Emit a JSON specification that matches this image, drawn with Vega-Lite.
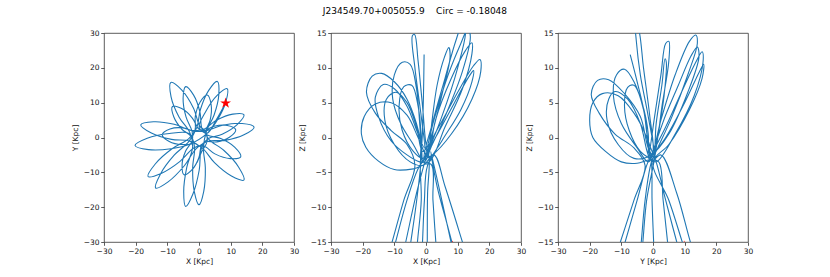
{
"$schema": "https://vega.github.io/schema/vega-lite/v6.json",
"padding": {"left": 70, "top": 6, "right": 5, "bottom": 5},
"title": {"text": "J234549.70+005055.9\u00a0\u00a0\u00a0\u00a0Circ = -0.18048", "anchor": "middle", "font": "DejaVu Sans", "fontSize": 9, "fontWeight": "normal", "color": "#000", "offset": 13, "dx": 3},
"config": {
  "font": "DejaVu Sans",
  "view": {"stroke": "#333", "strokeWidth": 0.8},
  "axis": {"grid": false, "domain": false, "labelOverlap": false, "labelFlush": false, "tickColor": "#333", "tickSize": 3.3, "tickWidth": 0.8, "labelFont": "DejaVu Sans", "labelFontSize": 7.5, "labelColor": "#111", "labelPadding": 1.7, "titleFont": "DejaVu Sans", "titleFontSize": 7.5, "titleFontWeight": "normal", "titleColor": "#111"},
  "axisX": {"titlePadding": 3},
  "axisY": {"titlePadding": 4}
},
"datasets": {
"xy": [
{"a":-0.6,"b":-7.2},{"a":0.8,"b":-4.2},{"a":2.6,"b":-1.0},{"a":2.0,"b":1.8},
{"a":0.25,"b":3.27},{"a":-1.73,"b":8.39},{"a":-5.42,"b":13.6},{"a":-8.9,"b":15.8},{"a":-8.82,"b":11.68},{"a":-6.27,"b":5.83},{"a":-2.93,"b":1.47},
{"a":-2.0,"b":-2.68},{"a":-3.85,"b":-8.49},{"a":-4.83,"b":-15.53},{"a":-4.2,"b":-19.8},{"a":-1.89,"b":-16.15},{"a":0.07,"b":-9.33},{"a":0.74,"b":-3.26},
{"a":2.77,"b":-0.42},{"a":7.31,"b":0.93},{"a":12.05,"b":3.7},{"a":14.2,"b":6.5},{"a":10.67,"b":6.7},{"a":5.47,"b":4.93},{"a":1.49,"b":2.38},
{"a":-2.46,"b":2.05},{"a":-7.86,"b":3.78},{"a":-14.4,"b":4.5},{"a":-18.4,"b":3.6},{"a":-15.04,"b":1.26},{"a":-8.7,"b":-0.54},{"a":-3.06,"b":-0.97},
{"a":1.08,"b":-3.05},{"a":4.89,"b":-7.24},{"a":10.24,"b":-11.07},{"a":14.2,"b":-12.2},{"a":12.48,"b":-8.45},{"a":7.89,"b":-3.74},{"a":3.18,"b":-0.61},
{"a":2.03,"b":1.48},{"a":3.52,"b":4.99},{"a":3.84,"b":9.38},{"a":2.6,"b":12.2},{"a":0.32,"b":10.14},{"a":-1.18,"b":5.99},{"a":-1.25,"b":2.18},
{"a":-3.3,"b":-0.42},{"a":-8.51,"b":-3.23},{"a":-13.82,"b":-7.61},{"a":-16.1,"b":-11.2},{"a":-11.94,"b":-10.31},{"a":-5.99,"b":-6.85},{"a":-1.54,"b":-2.94},
{"a":1.33,"b":-2.38},{"a":5.02,"b":-4.7},{"a":9.87,"b":-6.06},{"a":13.2,"b":-5.5},{"a":11.25,"b":-2.74},{"a":6.86,"b":-0.26},{"a":2.63,"b":0.72},
{"a":0.92,"b":2.64},{"a":0.32,"b":7.21},{"a":-1.7,"b":12.16},{"a":-4.2,"b":14.6},{"a":-5.02,"b":11.2},{"a":-4.1,"b":5.93},{"a":-2.18,"b":1.74},
{"a":-2.18,"b":-0.96},{"a":-4.22,"b":-3.9},{"a":-5.34,"b":-7.87},{"a":-4.7,"b":-10.7},{"a":-2.18,"b":-9.25},{"a":-0.02,"b":-5.74},{"a":0.76,"b":-2.26},
{"a":2.04,"b":-1.25},{"a":5.65,"b":-1.27},{"a":9.6,"b":0.07},{"a":11.6,"b":2.2},{"a":8.96,"b":3.45},{"a":4.79,"b":3.25},{"a":1.44,"b":1.91},
{"a":-0.09,"b":2.44},{"a":-2.11,"b":5.59},{"a":-5.47,"b":8.3},{"a":-8.4,"b":8.9},{"a":-7.97,"b":5.94},{"a":-5.45,"b":2.43},{"a":-2.43,"b":0.24},
{"a":-1.4,"b":-2.9},{"a":-2.0,"b":-8.69},{"a":-1.5,"b":-15.44},{"a":0,"b":-19.3},{"a":1.5,"b":-15.44},{"a":2.0,"b":-8.69},{"a":1.4,"b":-2.9},
{"a":2.39,"b":1.87},{"a":4.77,"b":6.47},{"a":6.26,"b":12.3},{"a":5.8,"b":16.1},{"a":3.02,"b":13.46},{"a":0.45,"b":8.03},{"a":-0.65,"b":2.97},
{"a":-3.18,"b":-1.12},{"a":-7.77,"b":-5.02},{"a":-12.16,"b":-10.47},{"a":-13.7,"b":-14.5},{"a":-9.76,"b":-12.73},{"a":-4.57,"b":-8.04},{"a":-0.94,"b":-3.24},
{"a":2.87,"b":-1.07},{"a":8.2,"b":-0.82},{"a":14.2,"b":0.77},{"a":17.4,"b":3.0},{"a":13.64,"b":4.03},{"a":7.46,"b":3.52},{"a":2.35,"b":1.97},
{"a":-1.62,"b":1.79},{"a":-5.05,"b":2.75},{"a":-9.16,"b":2.43},{"a":-11.6,"b":0.8},{"a":-9.4,"b":-1.15},{"a":-5.39,"b":-2.03},{"a":-1.86,"b":-1.55},
{"a":-3.2,"b":1.18},{"a":-9.34,"b":1.15},{"a":-16.35,"b":-0.2},{"a":-20.2,"b":-2.3},{"a":-15.97,"b":-3.48},{"a":-8.84,"b":-3.23},{"a":-2.86,"b":-1.88},
{"a":2.64,"b":1.27},{"a":5.86,"b":5.12},{"a":8.51,"b":10.32},{"a":8.9,"b":14.0},{"a":5.73,"b":12.08},{"a":2.14,"b":7.48},{"a":0.04,"b":2.93},
{"a":2.6,"b":1.2},{"a":5.4,"b":5.0},{"a":8.4,"b":9.9}
],
"xz": [
{"a":-0.6,"b":11.9},{"a":-0.8,"b":6},{"a":-1.2,"b":0},{"a":-1.8,"b":-4},
{"a":-1.5,"b":-9},{"a":-2.7,"b":-15},{"a":-3.8,"b":-21},{"a":0,"b":-27},{"a":4.2,"b":-21},{"a":3.1,"b":-15},{"a":2.2,"b":-9},{"a":1.5,"b":-3.8},
{"a":-4,"b":-4.5},{"a":-10,"b":-4.6},{"a":-15,"b":-3.4},{"a":-19,"b":-1.4},{"a":-20.4,"b":0.5},{"a":-19.5,"b":3},{"a":-16,"b":4.8},{"a":-11,"b":5},{"a":-6,"b":3.2},{"a":-2.5,"b":0},
{"a":0.5,"b":-2.8},{"a":1.8,"b":2},{"a":3.5,"b":7.5},{"a":5.8,"b":11.5},{"a":7.2,"b":12.9},{"a":7.6,"b":11.5},{"a":5.5,"b":7},{"a":2.5,"b":1.5},{"a":0.5,"b":-2},
{"a":-3,"b":-8},{"a":-6.4,"b":-15},{"a":-9.3,"b":-21},{"a":-12,"b":-26},{"a":-14.4,"b":-21},{"a":-10.7,"b":-15},{"a":-7,"b":-9},{"a":-3.5,"b":-4},
{"a":-6,"b":-1},{"a":-11,"b":1},{"a":-16,"b":3.5},{"a":-18.8,"b":6.5},{"a":-17,"b":8.8},{"a":-14,"b":9.2},{"a":-10,"b":8},{"a":-6,"b":5.5},{"a":-3,"b":2},{"a":-1.5,"b":-1},
{"a":-1,"b":-3.5},{"a":2.5,"b":2.5},{"a":7,"b":9},{"a":11,"b":13.5},{"a":13.2,"b":15.6},{"a":14,"b":14.5},{"a":11.5,"b":9.5},{"a":6,"b":3},{"a":1.5,"b":-1.5},
{"a":-0.5,"b":-3.5},{"a":-4,"b":-1},{"a":-8,"b":2},{"a":-10.5,"b":5.5},{"a":-10,"b":9},{"a":-7.5,"b":10.8},{"a":-5,"b":10.5},{"a":-3,"b":7},{"a":-2,"b":2},{"a":-1.5,"b":-2.5},
{"a":-2.8,"b":-8.5},{"a":-4.8,"b":-15},{"a":-6.8,"b":-21},{"a":-9.5,"b":-26},{"a":-13,"b":-21},{"a":-9.6,"b":-15},{"a":-6,"b":-9},{"a":-2.5,"b":-4.5},
{"a":1,"b":-2},{"a":3,"b":2.5},{"a":8,"b":8.5},{"a":12.5,"b":12.5},{"a":14.5,"b":13.6},{"a":14.5,"b":12},{"a":11.5,"b":7},{"a":6,"b":1.5},{"a":1,"b":-3.5},
{"a":-2,"b":-3.5},{"a":-6,"b":-2.5},{"a":-11,"b":-0.5},{"a":-15,"b":3},{"a":-16,"b":5.8},{"a":-13.5,"b":7.6},{"a":-10,"b":7},{"a":-6,"b":4.5},{"a":-2.5,"b":0.5},
{"a":-0.5,"b":-1.5},{"a":-1.5,"b":3},{"a":-3.5,"b":10},{"a":-4.3,"b":14.6},{"a":-3.6,"b":14.8},{"a":-2.5,"b":11},{"a":-1,"b":4},{"a":0,"b":-1},
{"a":1,"b":-3},{"a":0.5,"b":-8},{"a":0.4,"b":-15},{"a":0.3,"b":-21},{"a":7,"b":-27},{"a":15.5,"b":-21},{"a":11.5,"b":-15},{"a":6,"b":-7},{"a":2.5,"b":-2.5},
{"a":-1,"b":-4},{"a":-5,"b":-3.5},{"a":-10,"b":-1},{"a":-13,"b":2.5},{"a":-12.5,"b":5.5},{"a":-9.5,"b":6.5},{"a":-6,"b":5},{"a":-3,"b":1.5},{"a":-1,"b":-2},
{"a":4,"b":1.5},{"a":10,"b":6.5},{"a":15,"b":10.3},{"a":17,"b":11.2},{"a":17.3,"b":9.5},{"a":14.5,"b":5.5},{"a":8,"b":0.5},{"a":2,"b":-2.5},
{"a":-0.5,"b":-3},{"a":2,"b":2},{"a":6,"b":8.5},{"a":9.5,"b":14},{"a":11.5,"b":16.3},{"a":12.5,"b":15.5},{"a":10,"b":10},{"a":5,"b":3},{"a":1.5,"b":-1},
{"a":-1,"b":-3},{"a":-4,"b":-2},{"a":-7.5,"b":1},{"a":-8.5,"b":4.5},{"a":-7,"b":7.3},{"a":-4.5,"b":7.5},{"a":-2.5,"b":4.5},{"a":-1.5,"b":0},
{"a":-1.5,"b":-3.5},{"a":3,"b":0},{"a":9,"b":5},{"a":13.5,"b":8.7},{"a":15,"b":9.6},{"a":14.5,"b":8},{"a":11,"b":4},{"a":5,"b":-0.5},{"a":0.5,"b":-4},
{"a":-0.5,"b":-9},{"a":-1.1,"b":-15},{"a":-1.7,"b":-21},{"a":4,"b":-27},{"a":11,"b":-21},{"a":7.9,"b":-15},{"a":4.5,"b":-8},{"a":1.5,"b":-2},
{"a":3.5,"b":-7},{"a":7,"b":-13},{"a":8.5,"b":-15.6}
],
"yz": [
{"a":-7.2,"b":11.9},{"a":-5,"b":8},{"a":-2.5,"b":3},{"a":-1.5,"b":-1.5},
{"a":-0.5,"b":-3.5},{"a":-0.3,"b":-9},{"a":0.2,"b":-15},{"a":0.7,"b":-21},{"a":3,"b":-27},{"a":6,"b":-21},{"a":4.6,"b":-15},{"a":3.2,"b":-9},{"a":1.8,"b":-3.5},
{"a":-1,"b":-3.2},{"a":-5,"b":-3.7},{"a":-10,"b":-3.5},{"a":-15,"b":-2},{"a":-19,"b":0},{"a":-20,"b":2.5},{"a":-19,"b":5},{"a":-16,"b":6.3},{"a":-11,"b":6},{"a":-6,"b":3.5},{"a":-2,"b":0},
{"a":-0.5,"b":-2.5},{"a":2.5,"b":2.5},{"a":7,"b":9},{"a":11.5,"b":13.8},{"a":13.5,"b":14.7},{"a":14,"b":13.5},{"a":11,"b":9},{"a":6,"b":3},{"a":1.5,"b":-1.5},
{"a":-0.5,"b":-3.5},{"a":-2.5,"b":-9},{"a":-3.7,"b":-15},{"a":-4.9,"b":-21},{"a":-9,"b":-27},{"a":-14.6,"b":-21},{"a":-10.3,"b":-15},{"a":-6,"b":-9},{"a":-2.5,"b":-4},
{"a":-6,"b":-1.5},{"a":-12,"b":0.5},{"a":-17,"b":3.5},{"a":-19.5,"b":6.2},{"a":-17.5,"b":8.2},{"a":-14,"b":8.3},{"a":-9,"b":6.3},{"a":-4,"b":3},{"a":-1.5,"b":-1.5},
{"a":0.5,"b":-3},{"a":-1.5,"b":3},{"a":-4,"b":9},{"a":-5.3,"b":14},{"a":-5.6,"b":16.5},{"a":-4.5,"b":15.5},{"a":-3,"b":10},{"a":-1,"b":3},{"a":0,"b":-2},
{"a":-1.5,"b":-3.5},{"a":-5,"b":-1.5},{"a":-10,"b":2},{"a":-12.5,"b":6},{"a":-11.5,"b":9},{"a":-9,"b":9.8},{"a":-6,"b":8},{"a":-3,"b":4},{"a":-1.5,"b":-0.5},
{"a":1,"b":-3.5},{"a":4,"b":-9},{"a":7.5,"b":-15},{"a":11,"b":-21},{"a":13.5,"b":-27},{"a":16,"b":-21},{"a":11.8,"b":-15},{"a":7.5,"b":-8},{"a":2.5,"b":-2.5},
{"a":-0.5,"b":-3.5},{"a":3,"b":2},{"a":8,"b":7.5},{"a":12,"b":11.7},{"a":14,"b":13},{"a":14.5,"b":11.5},{"a":11,"b":6.5},{"a":5,"b":0.5},{"a":-0.5,"b":-2.5},
{"a":-6,"b":-3},{"a":-11,"b":-1},{"a":-14.5,"b":2.5},{"a":-14,"b":5.5},{"a":-12,"b":6.6},{"a":-8,"b":5.5},{"a":-4,"b":2},{"a":-1.5,"b":-2.5},
{"a":0,"b":-3.5},{"a":1,"b":2},{"a":2.8,"b":7.5},{"a":3.8,"b":11.3},{"a":4.2,"b":10.8},{"a":3.5,"b":6},{"a":1.5,"b":0},{"a":0.5,"b":-3},
{"a":-2,"b":-9},{"a":-3.2,"b":-15},{"a":-4.4,"b":-21},{"a":-8,"b":-27},{"a":-12.6,"b":-21},{"a":-8.8,"b":-15},{"a":-5,"b":-9},{"a":-2,"b":-4},
{"a":-0.5,"b":-2.5},{"a":4,"b":1.5},{"a":9,"b":6.5},{"a":13.5,"b":10.8},{"a":15.5,"b":12.3},{"a":15.8,"b":10.8},{"a":13,"b":6},{"a":7,"b":0.5},{"a":1,"b":-3.5},
{"a":-1,"b":-3},{"a":-4,"b":-2},{"a":-7.5,"b":1},{"a":-9,"b":4.5},{"a":-8,"b":7.2},{"a":-6,"b":7.5},{"a":-3.5,"b":5},{"a":-1.5,"b":0.5},
{"a":-1.5,"b":-3},{"a":0.5,"b":3},{"a":2.5,"b":9},{"a":4,"b":13.5},{"a":5,"b":13.8},{"a":5,"b":11},{"a":3,"b":5},{"a":0.5,"b":-2},
{"a":-1,"b":-3},{"a":4,"b":0},{"a":10,"b":5},{"a":14.5,"b":9.3},{"a":16,"b":10.5},{"a":15.5,"b":8.5},{"a":11.5,"b":4},{"a":5,"b":-1},{"a":0,"b":-3.5},
{"a":5,"b":-9},{"a":9.1,"b":-14.8},{"a":9.7,"b":-15.6}
],
"star": [{"x": 8.4, "y": 9.85, "z": -15.6}]
},
"bounds": "flush",
"spacing": 37,
"hconcat": [
{
  "width": 190, "height": 209,
  "layer": [
    {"data": {"name": "xy"},
     "mark": {"type": "line", "clip": true, "color": "#1f77b4", "strokeWidth": 1.1, "interpolate": "catmull-rom"},
     "encoding": {
       "x": {"field": "a", "type": "quantitative", "title": "X [Kpc]", "scale": {"domain": [-30, 30], "nice": false, "zero": false}, "axis": {"values": [-30, -20, -10, 0, 10, 20, 30], "labelOverlap": false, "labelFlush": false}},
       "y": {"field": "b", "type": "quantitative", "title": "Y [Kpc]", "scale": {"domain": [-30, 30], "nice": false, "zero": false}, "axis": {"values": [-30, -20, -10, 0, 10, 20, 30], "labelOverlap": false, "labelFlush": false}},
       "order": {"value": null}
     }},
    {"data": {"name": "star"},
     "mark": {"type": "point", "shape": "M0,-1L0.2245,-0.309L0.951,-0.309L0.363,0.118L0.588,0.809L0,0.382L-0.588,0.809L-0.363,0.118L-0.951,-0.309L-0.2245,-0.309Z", "filled": true, "color": "#ff0000", "opacity": 1, "size": 130, "clip": true},
     "encoding": {
       "x": {"field": "x", "type": "quantitative", "title": "X [Kpc]", "axis": {"values": [-30, -20, -10, 0, 10, 20, 30], "labelOverlap": false, "labelFlush": false}},
       "y": {"field": "y", "type": "quantitative", "title": "Y [Kpc]", "axis": {"values": [-30, -20, -10, 0, 10, 20, 30], "labelOverlap": false, "labelFlush": false}}
     }}
  ]
},
{
  "width": 190, "height": 209,
  "layer": [
    {"data": {"name": "xz"},
     "mark": {"type": "line", "clip": true, "color": "#1f77b4", "strokeWidth": 1.1, "interpolate": "catmull-rom"},
     "encoding": {
       "x": {"field": "a", "type": "quantitative", "title": "X [Kpc]", "scale": {"domain": [-30, 30], "nice": false, "zero": false}, "axis": {"values": [-30, -20, -10, 0, 10, 20, 30], "labelOverlap": false, "labelFlush": false}},
       "y": {"field": "b", "type": "quantitative", "title": "Z [Kpc]", "scale": {"domain": [-15, 15], "nice": false, "zero": false}, "axis": {"values": [-15, -10, -5, 0, 5, 10, 15], "labelOverlap": false, "labelFlush": false}},
       "order": {"value": null}
     }},
    {"data": {"name": "star"},
     "mark": {"type": "point", "shape": "M0,-1L0.2245,-0.309L0.951,-0.309L0.363,0.118L0.588,0.809L0,0.382L-0.588,0.809L-0.363,0.118L-0.951,-0.309L-0.2245,-0.309Z", "filled": true, "color": "#ff0000", "opacity": 1, "size": 130, "clip": true},
     "encoding": {
       "x": {"field": "x", "type": "quantitative", "title": "X [Kpc]", "axis": {"values": [-30, -20, -10, 0, 10, 20, 30], "labelOverlap": false, "labelFlush": false}},
       "y": {"field": "z", "type": "quantitative", "title": "Z [Kpc]", "axis": {"values": [-15, -10, -5, 0, 5, 10, 15], "labelOverlap": false, "labelFlush": false}}
     }}
  ]
},
{
  "width": 190, "height": 209,
  "layer": [
    {"data": {"name": "yz"},
     "mark": {"type": "line", "clip": true, "color": "#1f77b4", "strokeWidth": 1.1, "interpolate": "catmull-rom"},
     "encoding": {
       "x": {"field": "a", "type": "quantitative", "title": "Y [Kpc]", "scale": {"domain": [-30, 30], "nice": false, "zero": false}, "axis": {"values": [-30, -20, -10, 0, 10, 20, 30], "labelOverlap": false, "labelFlush": false}},
       "y": {"field": "b", "type": "quantitative", "title": "Z [Kpc]", "scale": {"domain": [-15, 15], "nice": false, "zero": false}, "axis": {"values": [-15, -10, -5, 0, 5, 10, 15], "labelOverlap": false, "labelFlush": false}},
       "order": {"value": null}
     }},
    {"data": {"name": "star"},
     "mark": {"type": "point", "shape": "M0,-1L0.2245,-0.309L0.951,-0.309L0.363,0.118L0.588,0.809L0,0.382L-0.588,0.809L-0.363,0.118L-0.951,-0.309L-0.2245,-0.309Z", "filled": true, "color": "#ff0000", "opacity": 1, "size": 130, "clip": true},
     "encoding": {
       "x": {"field": "y", "type": "quantitative", "title": "Y [Kpc]", "axis": {"values": [-30, -20, -10, 0, 10, 20, 30], "labelOverlap": false, "labelFlush": false}},
       "y": {"field": "z", "type": "quantitative", "title": "Z [Kpc]", "axis": {"values": [-15, -10, -5, 0, 5, 10, 15], "labelOverlap": false, "labelFlush": false}}
     }}
  ]
}
]
}
